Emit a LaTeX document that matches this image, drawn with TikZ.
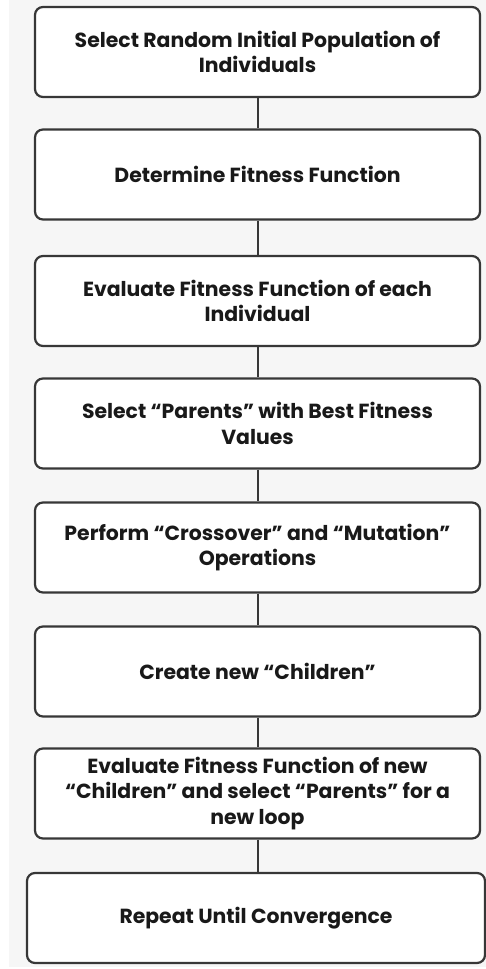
\documentclass[tikz,border=0pt]{standalone}
\usepackage{fontspec}
\setmainfont{Poppins}
\usepackage{tikz}
\usetikzlibrary{calc}
\usepackage{xcolor}
\definecolor{boxline}{RGB}{55, 55, 55}
\definecolor{paper}{RGB}{246, 246, 246}
\definecolor{inktext}{RGB}{25, 25, 25}

\tikzset{
  stepbox/.style={draw=boxline, line width=1.1pt, rounded corners=4pt, fill=white,
    minimum width=222.5pt, minimum height=45pt, align=center, text=inktext,
    font=\fontsize{10.2}{12.9}\selectfont\bfseries, inner sep=2pt},
  link/.style={draw=boxline, line width=1pt}
}

\begin{document}
\begin{tikzpicture}[x=0.5pt, y=-0.5pt]
  % Page and background
  \useasboundingbox (0,0) rectangle (486,969);
  \fill[paper] (9,0) rectangle (486,967);

  % Steps
  \node[stepbox] (init) at (257.5, 52) {Select Random Initial Population of\\Individuals};
  \node[stepbox] (fitfun) at (257.5, 174.5) {Determine Fitness Function};
  \node[stepbox] (evalind) at (257.5, 301) {Evaluate Fitness Function of each\\Individual};
  \node[stepbox] (parents) at (257.5, 423.5) {Select “Parents” with Best Fitness\\Values};
  \node[stepbox] (crossmut) at (257.5, 547.5) {Perform “Crossover” and “Mutation”\\Operations};
  \node[stepbox] (children) at (257.5, 671.5) {Create new “Children”};
  \node[stepbox] (evalnew) at (257.5, 793.5) {Evaluate Fitness Function of new\\“Children” and select “Parents” for a\\new loop};
  \node[stepbox, minimum width=229pt] (repeat) at (256, 918) {Repeat Until Convergence};

  % Connectors
  \draw[link] (init) -- (fitfun);
  \draw[link] (fitfun) -- (evalind);
  \draw[link] (evalind) -- (parents);
  \draw[link] (parents) -- (crossmut);
  \draw[link] (crossmut) -- (children);
  \draw[link] (children) -- (evalnew);
  \draw[link] (evalnew) -- (repeat.north -| evalnew.south);
\end{tikzpicture}
\end{document}
